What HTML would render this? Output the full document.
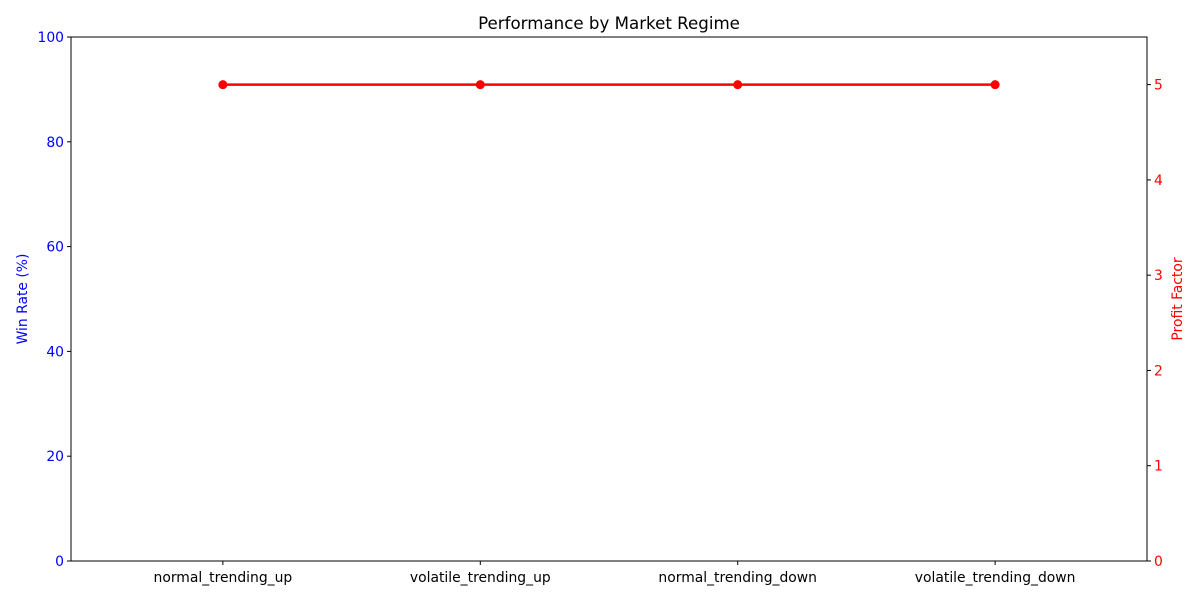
<!DOCTYPE html>
<html><head><meta charset="utf-8"><style>
body{margin:0;background:#fff;}
svg text{font-family:"DejaVu Sans","Liberation Sans",sans-serif;}
</style></head><body>
<svg id="chart" width="1200" height="600" xmlns="http://www.w3.org/2000/svg">
<rect width="1200" height="600" fill="#fff"/>
<text x="609" y="29" font-size="16.67" text-anchor="middle">Performance by Market Regime</text>
<g id="axes"></g>
<g id="series"></g>
<rect x="71" y="37" width="1076" height="524" fill="none" stroke="#000" stroke-width="1"/>
<text transform="translate(27,299) rotate(-90)" font-size="13.9" fill="#0000ff" text-anchor="middle">Win Rate (%)</text>
<text transform="translate(1182,299) rotate(-90)" font-size="13.9" fill="#ff0000" text-anchor="middle">Profit Factor</text>
</svg>
<script>
const categories=["normal_trending_up","volatile_trending_up","normal_trending_down","volatile_trending_down"];
const profitFactor=[5,5,5,5];
const leftTicks=[0,20,40,60,80,100];
const rightTicks=[0,1,2,3,4,5];
const L=71,R=1147,T=37,B=561;
const xs=i=>L+(i+0.59)/4.18*(R-L);
const yl=v=>B-v/100*(B-T);
const yr=v=>B-v/5.5*(B-T);
const NS="http://www.w3.org/2000/svg";
const ax=document.getElementById('axes'),se=document.getElementById('series');
function mk(t,a,p){const e=document.createElementNS(NS,t);for(const k in a)e.setAttribute(k,a[k]);p.appendChild(e);return e;}
leftTicks.forEach(v=>{
 const l=mk('line',{x1:L-4,x2:L,y1:yl(v),y2:yl(v),stroke:'#000'},ax);
 
 
 const t=mk('text',{x:L-7,y:yl(v)+5,'font-size':13.9,fill:'#0000ff','text-anchor':'end'},ax);t.textContent=v;
 
 
});
rightTicks.forEach(v=>{
 const l=mk('line',{x1:R,x2:R+4,y1:yr(v),y2:yr(v),stroke:'#000'},ax);
 
 
 const t=mk('text',{x:R+7,y:yr(v)+5,'font-size':13.9,fill:'#ff0000'},ax);t.textContent=v;
 
 
});
categories.forEach((c,i)=>{
 const l=mk('line',{x1:xs(i),x2:xs(i),y1:B,y2:B+4,stroke:'#000'},ax);
 
 
 const t=mk('text',{x:xs(i),y:B+21,'font-size':13.9,'text-anchor':'middle'},ax);t.textContent=c;
 
 
});
const pl=mk('polyline',{points:profitFactor.map((v,i)=>xs(i)+','+yr(v)).join(' '),fill:'none',stroke:'#ff0000','stroke-width':2.5},se);


profitFactor.forEach((v,i)=>{
 const c=mk('circle',{cx:xs(i),cy:yr(v),r:4.5,fill:'#ff0000'},se);
 
 
});
</script>
</body></html>
